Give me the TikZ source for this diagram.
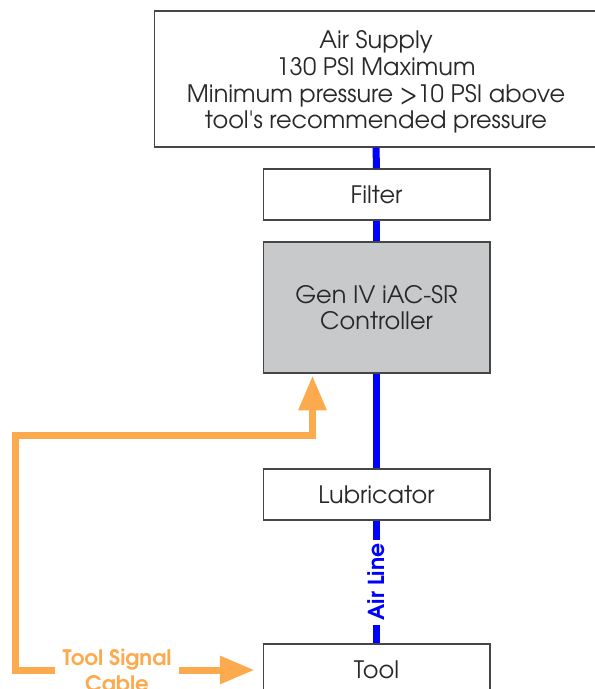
\documentclass[tikz,border=0pt]{standalone}
\usepackage{fontspec}
\setmainfont{texgyreadventor}[Extension=.otf,UprightFont=*-regular,BoldFont=*-bold]
\usetikzlibrary{arrows.meta,calc}
\definecolor{boxline}{RGB}{70,70,70}
\definecolor{boxtext}{RGB}{40,40,40}
\definecolor{ctrlgray}{RGB}{200,201,203}
\definecolor{sigorange}{RGB}{251,170,77}
\tikzset{every picture/.style={line width=0.75pt}}

\begin{document}
\begin{tikzpicture}[x=0.75pt,y=0.75pt,yscale=-1,xscale=1,
  unit/.style={draw=boxline,fill=white,text=boxtext,line width=1pt,minimum width=170pt,minimum height=38.25pt,align=center,inner sep=0pt,font=\fontsize{18}{20}\selectfont},
  airline/.style={draw=blue,line width=5.25pt},
  signal/.style={draw=sigorange,line width=5.25pt},
  sigtip/.style={-{Triangle[length=26pt,width=20pt]}}]
\useasboundingbox (0,0) rectangle (595,689);

%Shape: Rectangle [air supply]
\node [unit,minimum width=332pt,minimum height=102pt] (air) at (376,79) {\rule{0pt}{18pt}Air Supply\\130 PSI Maximum\\Minimum pressure >10 PSI above\\tool\textquotesingle s recommended pressure};
%Shape: Rectangle [filter]
\node [unit] (filter) at (376.5,194.5) {Filter};
%Shape: Rectangle [controller]
\node [unit,fill=ctrlgray,minimum height=98.25pt] (ctrl) at (376.5,307.5) {Gen IV iAC-SR\\Controller};
%Shape: Rectangle [lubricator]
\node [unit] (lub) at (376.5,494.5) {Lubricator};
%Shape: Rectangle [tool]
\node [unit] (tool) at (376.5,669.5) {Tool};

%Straight Lines [air line]
\draw [airline] (air.south) -- (filter.north);
\draw [airline] (filter.south) -- (ctrl.north);
\draw [airline] (ctrl.south) -- (lub.north);
\draw [airline] (lub.south) -- (tool.north);
% Text Node
\node [fill=white,text=blue,rotate=90,inner xsep=3pt,inner ysep=1pt,font=\bfseries\fontsize{16.5}{18}\selectfont] (airlbl) at ($(lub.south)!0.5!(tool.north)$) {Air Line};

% Text Node
\node [text=sigorange,align=center,inner xsep=5pt,font=\bfseries\fontsize{16}{19.5}\selectfont] (cable) at (117,670) {Tool Signal\\Cable};
\coordinate (sigin) at ($(ctrl.south)+(-64,2)$);

%Straight Lines [signal cable]
\draw [signal,sigtip] (cable.west) -| (15,435) -| (sigin);
\draw [signal,sigtip,shorten >=6pt] (cable.east) -- (cable.east -| tool.west);

\end{tikzpicture}
\end{document}
